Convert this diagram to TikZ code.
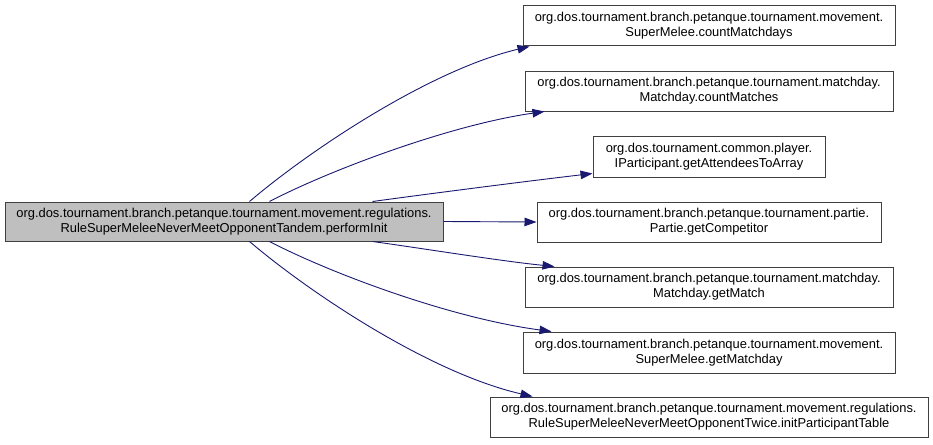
\documentclass[tikz,border=0pt]{standalone}
\usepackage{fontspec}
\setmainfont{Liberation Sans}
\usetikzlibrary{arrows.meta}
\definecolor{edgeblue}{HTML}{191970}
\definecolor{boxgray}{HTML}{BFBFBF}
\definecolor{boxline}{HTML}{404040}
\tikzset{
  fbox/.style={draw=boxline, line width=1pt, fill=white, inner sep=0pt, align=center,
    font=\fontsize{12.9}{15}\selectfont},
  mainbox/.style={fbox, fill=boxgray},
  call/.style={draw=edgeblue, line width=0.9pt, -{Triangle[length=12pt,width=8.5pt]}}
}
\begin{document}
\begin{tikzpicture}[x=1pt,y=-1pt]
\useasboundingbox (0,0) rectangle (933,444);
\node[mainbox, minimum width=438pt, minimum height=39pt] (m) at (224,221.5)
  {org.dos.tournament.branch.petanque.tournament.movement.regulations.\\RuleSuperMeleeNeverMeetOpponentTandem.performInit};
\node[fbox, minimum width=372pt, minimum height=40pt] (n1) at (709,26)
  {org.dos.tournament.branch.petanque.tournament.movement.\\SuperMelee.countMatchdays};
\node[fbox, minimum width=368pt, minimum height=40pt] (n2) at (709,91)
  {org.dos.tournament.branch.petanque.tournament.matchday.\\Matchday.countMatches};
\node[fbox, minimum width=232pt, minimum height=41pt] (n3) at (709,156.5)
  {org.dos.tournament.common.player.\\IParticipant.getAttendeesToArray};
\node[fbox, minimum width=344pt, minimum height=40pt] (n4) at (709,222)
  {org.dos.tournament.branch.petanque.tournament.partie.\\Partie.getCompetitor};
\node[fbox, minimum width=368pt, minimum height=40pt] (n5) at (709,287)
  {org.dos.tournament.branch.petanque.tournament.matchday.\\Matchday.getMatch};
\node[fbox, minimum width=372pt, minimum height=41pt] (n6) at (709,352.5)
  {org.dos.tournament.branch.petanque.tournament.movement.\\SuperMelee.getMatchday};
\node[fbox, minimum width=438pt, minimum height=40pt] (n7) at (709,417)
  {org.dos.tournament.branch.petanque.tournament.movement.regulations.\\RuleSuperMeleeNeverMeetOpponentTwice.initParticipantTable};
\draw[call] ([xshift=245pt]m.north west) .. controls (310,150) and (430,70) .. ([xshift=7pt]n1.south west);
\draw[call] ([xshift=265pt]m.north west) .. controls (330,170) and (450,125) .. ([xshift=20pt]n2.south west);
\draw[call] ([xshift=368pt]m.north west) .. controls (420,195) and (520,182) .. ([yshift=4pt]n3.south west);
\draw[call] (m.east) -- (n4.west);
\draw[call] ([xshift=368pt]m.south west) .. controls (420,248) and (500,261) .. ([xshift=30pt]n5.north west);
\draw[call] ([xshift=265pt]m.south west) .. controls (330,273) and (450,318) .. ([xshift=29pt]n6.north west);
\draw[call] ([xshift=245pt]m.south west) .. controls (310,293) and (430,373) .. ([xshift=43pt]n7.north west);
\end{tikzpicture}
\end{document}
